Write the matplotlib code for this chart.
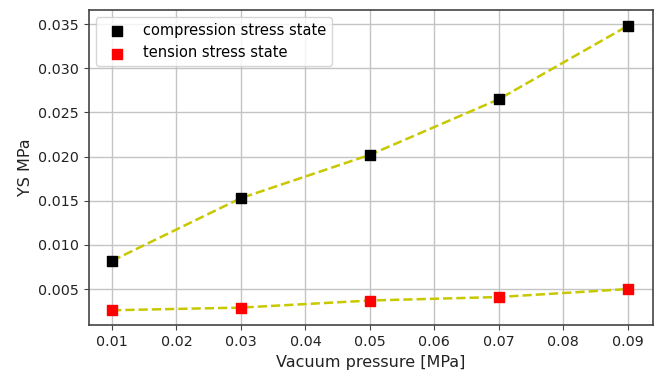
import matplotlib
matplotlib.use("Agg")
import matplotlib.pyplot as plt

pressure = [0.01, 0.03, 0.05, 0.07, 0.09]
compression = [0.0082, 0.0153, 0.0202, 0.0265, 0.0348]
tension = [0.0026, 0.0029, 0.0037, 0.0041, 0.0050]

fig, ax = plt.subplots(figsize=(6.58, 3.73), dpi=100)
fig.subplots_adjust(left=0.135, right=0.993, top=0.973, bottom=0.128)

# lines first, markers on top
ax.plot(pressure, compression, '--', color='#c8c800', lw=1.8, zorder=2)
ax.plot(pressure, tension, '--', color='#c8c800', lw=1.8, zorder=2)
ax.scatter(pressure, compression, marker='s', s=60, color='black', zorder=3,
           label='compression stress state')
ax.scatter(pressure, tension, marker='s', s=60, color='red', zorder=3,
           label='tension stress state')

ax.set_xlim(0.0064, 0.094)
ax.set_ylim(0.0009, 0.0366)
ax.set_xticks([0.01, 0.02, 0.03, 0.04, 0.05, 0.06, 0.07, 0.08, 0.09])
ax.set_yticks([0.005, 0.010, 0.015, 0.020, 0.025, 0.030, 0.035])
ax.grid(True, color='#c4c4c4', lw=1)
ax.set_axisbelow(True)
for sp in ax.spines.values():
    sp.set_color('#444444')
    sp.set_linewidth(1.2)
ax.set_xlabel('Vacuum pressure [MPa]', fontsize=11.5, color='#222222')
ax.set_ylabel('YS MPa', fontsize=11.5, color='#222222')
ax.tick_params(labelsize=10.3, labelcolor='#222222', color='#444444')
ax.legend(loc='upper left', scatterpoints=1, fontsize=10.5)

plt.savefig('out.png')
